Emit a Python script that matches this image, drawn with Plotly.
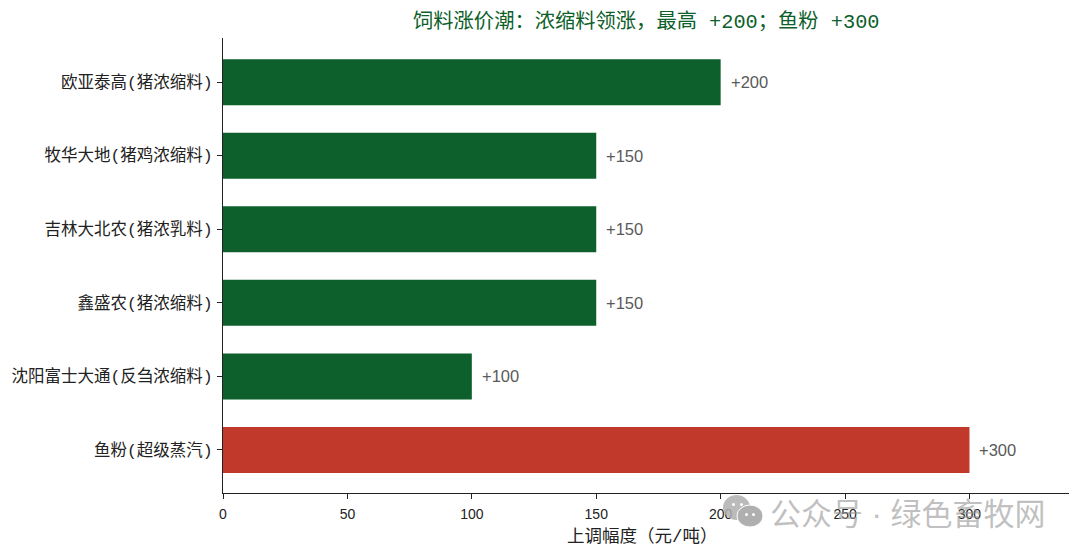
import plotly.graph_objs as go

# data, top bar first
categories = ['欧亚泰高(猪浓缩料)', '牧华大地(猪鸡浓缩料)', '吉林大北农(猪浓乳料)',
              '鑫盛农(猪浓缩料)', '沈阳富士大通(反刍浓缩料)', '鱼粉(超级蒸汽)']
values = [200, 150, 150, 150, 100, 300]
value_labels = ['+200', '+150', '+150', '+150', '+100', '+300']
bar_colors = ['#0d5f2b', '#0d5f2b', '#0d5f2b', '#0d5f2b', '#0d5f2b', '#c0392b']
x_ticks = [0, 50, 100, 150, 200, 250, 300]

titleset = '饲料涨价潮：浓缩料领涨，最高 +200；鱼粉 +300'
xtitle = '上调幅度（元/吨）'
watermark = '公众号 · 绿色畜牧网'

# half width latin like the original, CJK falls through to Noto
FONT_MONO = 'Liberation Mono, Noto Sans CJK SC'
FONT_SANS = 'Liberation Sans, Noto Sans CJK SC'
W, H = 1080, 556
L, R, T, B = 223, 11, 38, 63


# screen pixels to paper coordinates (paper is the plot area)
def px(x):
    return (x - L) / (W - L - R)


def py(y):
    return 1 - (y - T) / (H - T - B)


def bubble(x0, x1, y0, y1, color, line=None):
    return dict(type='circle', xref='paper', yref='paper', x0=px(x0), x1=px(x1), y0=py(y1), y1=py(y0),
                fillcolor=color, line=line or dict(width=0))


trace1 = go.Bar(
    x=values,
    y=categories,
    orientation='h',
    width=0.625,
    marker=dict(color=bar_colors, line=dict(width=0)),
    hoverinfo='x+y',
)

annotations = [
    dict(x=v, y=c, text=t, xref='x', yref='y', xanchor='left', yanchor='middle', xshift=8,
         showarrow=False, font=dict(family=FONT_SANS, size=16.5, color='#5a5a5a'))
    for v, c, t in zip(values, categories, value_labels)
]
annotations.append(
    dict(text=titleset, xref='paper', yref='paper', x=px(646.5), y=py(22), xanchor='center',
         yanchor='middle', showarrow=False,
         font=dict(family=FONT_MONO, size=20.3, color='#0d5f2b')))
annotations.append(
    dict(text=watermark, xref='paper', yref='paper', x=px(908), y=py(514), xanchor='center',
         yanchor='middle', showarrow=False,
         font=dict(family=FONT_SANS, size=31, color='rgba(150,150,150,0.6)')))
annotations.append(
    dict(text=xtitle, xref='paper', yref='paper', x=px(642.5), y=py(537), xanchor='center',
         yanchor='middle', showarrow=False,
         font=dict(family=FONT_MONO, size=17.5, color='#222222')))

layout = go.Layout(
    width=W,
    height=H,
    autosize=False,
    margin=dict(l=L, r=R, t=T, b=B, pad=0, autoexpand=False),
    paper_bgcolor='white',
    plot_bgcolor='white',
    showlegend=False,
    xaxis=dict(
        automargin=False,
        range=[0, 340],
        tickvals=x_ticks,
        ticks='outside',
        ticklen=5,
        tickwidth=1,
        tickcolor='#222222',
        showline=True,
        linecolor='#222222',
        linewidth=1,
        showgrid=False,
        zeroline=False,
        ticklabelstandoff=3,
        tickfont=dict(family=FONT_SANS, size=14, color='#222222'),
    ),
    yaxis=dict(
        automargin=False,
        autorange=False,
        range=[5.585, -0.6],
        ticks='outside',
        ticklen=5,
        tickwidth=1,
        tickcolor='#222222',
        showline=True,
        linecolor='#222222',
        linewidth=1,
        showgrid=False,
        zeroline=False,
        ticklabelstandoff=1,
        tickfont=dict(family=FONT_MONO, size=16.5, color='#222222'),
    ),
    annotations=annotations,
    # wechat style logo of the watermark
    shapes=[
        bubble(723, 750, 495, 520, 'rgba(175,175,175,0.85)'),
        bubble(737, 763, 505, 527, 'rgba(175,175,175,1)', dict(color='white', width=1)),
        bubble(732, 735, 503, 506, 'white'),
        bubble(740, 743, 503, 506, 'white'),
        bubble(745, 748, 513, 516, 'white'),
        bubble(752, 755, 513, 516, 'white'),
    ],
)

fig = go.Figure(data=[trace1], layout=layout)

fig.write_html("out.html", config=dict(displayModeBar=False),
               post_script="document.body.style.margin='0'")
